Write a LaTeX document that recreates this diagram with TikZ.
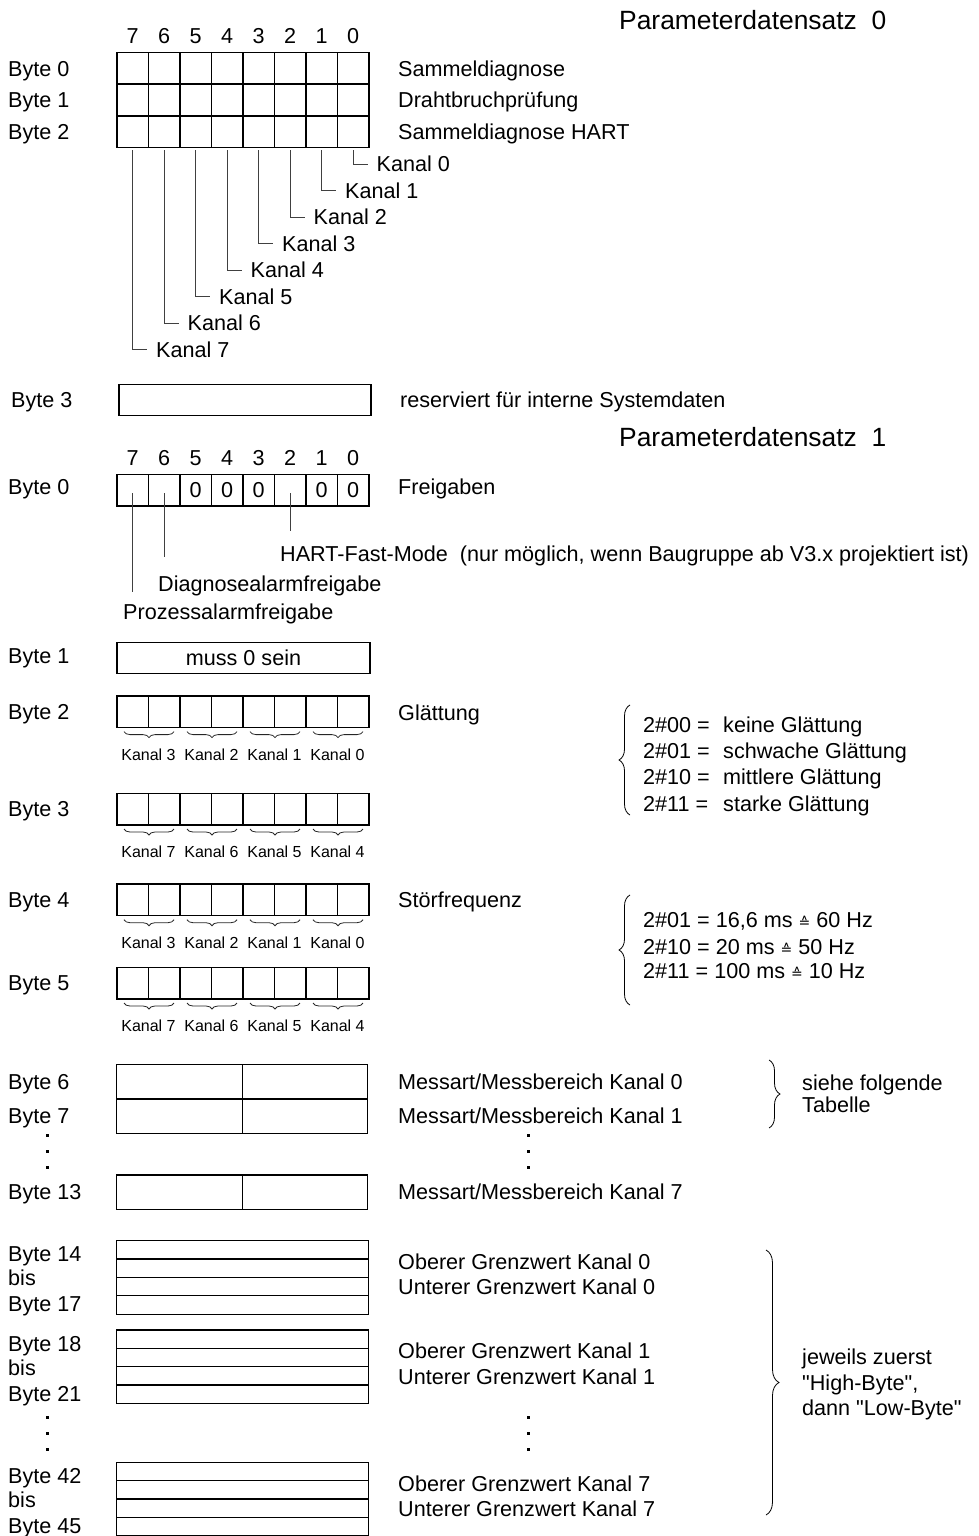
\documentclass[tikz,border=0pt]{standalone}
\usepackage{fontspec}
\setmainfont{Liberation Sans}[Ligatures=TeXOff]
\newfontfamily\symfont{DejaVu Sans}
\usetikzlibrary{positioning, calc, decorations.pathreplacing}

\newcommand{\entspricht}{{\symfont\fontsize{14}{16}\selectfont\char"2259}}

\begin{document}
\begin{tikzpicture}[x=1pt, y=-1pt,
    txt/.style={anchor=west, inner sep=0pt, font=\fontsize{21.6}{26}\selectfont, text height=15.5pt, text depth=0pt},
    small/.style={inner sep=0pt, font=\fontsize{16}{19}\selectfont, text height=11.5pt, text depth=0pt},
    title/.style={anchor=west, inner sep=0pt, font=\fontsize{26.4}{31}\selectfont, text height=19pt, text depth=0pt},
    bitbox/.style={draw, line width=1.5pt, minimum width=31.5pt, minimum height=31.6pt, inner sep=0pt, outer sep=0pt, font=\fontsize{21.6}{26}\selectfont, text height=15.5pt, text depth=0pt},
    bar/.style={draw, line width=1.3pt, minimum width=252pt, minimum height=31.4pt, inner sep=0pt, outer sep=0pt, anchor=north west},
    half/.style={draw, line width=1.3pt, minimum width=125.5pt, minimum height=34.6pt, inner sep=0pt, outer sep=0pt},
    word/.style={draw, line width=1.2pt, minimum width=252pt, minimum height=18.35pt, inner sep=0pt, outer sep=0pt, anchor=north west},
    lead/.style={line width=1pt, black!75},
    dot/.style={fill, minimum size=3pt, inner sep=0pt},
    ubrace/.style={decorate, decoration={brace, amplitude=6pt}, line width=0.8pt, black!85},
    bigbrace/.style={decorate, decoration={brace, amplitude=11pt}, line width=0.8pt}
]
\useasboundingbox (0,0) rectangle (978,1536);

% Parameterdatensatz 0
\node[title] (ps0) at (619,20) {Parameterdatensatz~~0};
\foreach \b in {0,...,7}
  \node[txt, anchor=center] (h\b) at ({132.75+31.5*(7-\b)},36) {\b};
\foreach \r/\yy in {0/68.5,1/100,2/131.5}
  \foreach \b in {0,...,7}
    \node[bitbox] (ab\r\b) at ({132.75+31.5*(7-\b)},\yy) {};
\node[txt] (by0) at (8,68.5) {Byte 0};
\node[txt] (by1) at (8,100) {Byte 1};
\node[txt] (by2) at (8,131.5) {Byte 2};
\node[txt] (sd) at (398,68.5) {Sammeldiagnose};
\node[txt] (dp) at (398,100) {Drahtbruchprüfung};
\node[txt] (sh) at (398,131.5) {Sammeldiagnose HART};
\foreach \b in {0,...,7}{
  \node[txt] (k\b) at ({156+31.5*(7-\b)},{164+26.5*\b}) {Kanal \b};
  \draw[lead] ([yshift=-3pt]ab2\b.south) |- ([xshift=-9pt]k\b.west);
}
\node[txt] (by3) at (11,400) {Byte 3};
\node[bar] (res) at (119,384.3) {};
\node[txt] (rs) at (400,400) {reserviert für interne Systemdaten};

% Parameterdatensatz 1
\node[title] (ps1) at (619,437) {Parameterdatensatz~~1};
\foreach \b in {0,...,7}
  \node[txt, anchor=center] (hp\b) at ({132.75+31.5*(7-\b)},458) {\b};
\foreach \b/\v in {7/,6/,5/0,4/0,3/0,2/,1/0,0/0}
  \node[bitbox] (c\b) at ({132.75+31.5*(7-\b)},490.2) {\v};
\node[txt] (by10) at (8,487) {Byte 0};
\node[txt] (fg) at (398,487) {Freigaben};
\node[txt] (hfm) at (280,553.3) {HART-Fast-Mode~~(nur möglich, wenn Baugruppe ab V3.x projektiert ist)};
\node[txt] (dfg) at (158,584) {Diagnosealarmfreigabe};
\node[txt] (pfg) at (123,612) {Prozessalarmfreigabe};
\draw[lead] ([yshift=-3pt]c7.center) -- ($(c7.center |- pfg.north)+(0,-12)$);
\draw[lead] ([yshift=-3pt]c6.center) -- ($(c6.center |- dfg.north)+(0,-19)$);
\draw[lead] ([yshift=-3pt]c2.center) -- ($(c2.center |- hfm.north)+(0,-14)$);

\node[txt] (by11) at (8,656) {Byte 1};
\node[bar, minimum height=31pt, minimum width=253pt, font=\fontsize{21.6}{26}\selectfont, text height=15.5pt, text depth=0pt] (mz) at (117,642.3) {muss 0 sein};

% Byte 2 bis 5
\foreach \n/\yc/\base in {2/711.8/3, 3/809.2/7, 4/899.9/3, 5/983.2/7}{
  \node[txt] (bb\n) at (8,\yc) {Byte \n};
  \foreach \b in {0,...,7}
    \node[bitbox] (gb\n\b) at ({132.75+31.5*(7-\b)},\yc) {};
  \foreach \p in {0,...,3}{
    \pgfmathtruncatemacro\lb{7-2*\p}
    \pgfmathtruncatemacro\rb{6-2*\p}
    \pgfmathtruncatemacro\k{\base-\p}
    \draw[ubrace] ([xshift=-6pt,yshift=-4pt]gb\n\rb.south east) -- ([xshift=7pt,yshift=-4pt]gb\n\lb.south west);
    \node[small] (kn\n\p) at ({148.5+63*\p},{\yc+42.5}) {Kanal \k};
  }
}
\node[txt] (gl) at (398,713) {Glättung};
\draw[bigbrace] (630,815) -- (630,705);
\foreach \c/\w [count=\i from 0] in {00/keine,01/schwache,10/mittlere,11/starke}{
  \node[txt] (gv\i) at (643,{725+26.1*\i}) {2\#\c\ =};
  \node[txt] (gw\i) at (723,{725+26.1*\i}) {\w\ Glättung};
}
\node[txt] (sf) at (398,900) {Störfrequenz};
\draw[bigbrace] (630,1005) -- (630,895);
\node[txt] (sf1) at (643,920) {2\#01 = 16,6 ms \entspricht\ 60 Hz};
\node[txt] (sf2) at (643,946.5) {2\#10 = 20 ms \entspricht\ 50 Hz};
\node[txt] (sf3) at (643,971) {2\#11 = 100 ms \entspricht\ 10 Hz};

% Messart / Messbereich
\foreach \n/\yc/\k in {6/1081.5/0, 7/1116.2/1, 13/1192.2/7}{
  \node[half] (ml\n) at (179.5,\yc) {};
  \node[half] (mr\n) at (305,\yc) {};
  \node[txt] (bm\n) at (8,\yc) {Byte \n};
  \node[txt] (ma\n) at (398,\yc) {Messart/Messbereich Kanal \k};
}
\foreach \i/\yy in {1/1135, 2/1151.5, 3/1167.5}{
  \node[dot] (dl\i) at (47.3,\yy) {};
  \node[dot] (dr\i) at (528,\yy) {};
}
\draw[bigbrace] (769,1060) -- (769,1128);
\node[txt] (st1) at (802,1082.3) {siehe folgende};
\node[txt] (st2) at (802,1105) {Tabelle};

% Grenzwerte
\foreach \a/\e/\top/\k in {14/17/1240.7/0, 18/21/1330/1, 42/45/1462.3/7}{
  \foreach \j in {0,...,3}
    \node[word] (w\a\j) at (116.7,{\top+18.35*\j}) {};
  \node[txt] (ba\a) at (8,{\top+13.3}) {Byte \a};
  \node[txt] (bis\a) at (8,{\top+37.3}) {bis};
  \node[txt] (be\a) at (8,{\top+63.4}) {Byte \e};
  \node[txt] (og\a) at (398,{\top+21.1}) {Oberer Grenzwert Kanal \k};
  \node[txt] (ug\a) at (398,{\top+46.4}) {Unterer Grenzwert Kanal \k};
}
\foreach \i/\yy in {1/1417.3, 2/1433.3, 3/1449}{
  \node[dot] (el\i) at (47.3,\yy) {};
  \node[dot] (er\i) at (528,\yy) {};
}
\draw[bigbrace, decoration={amplitude=13pt}] (766,1250) -- (766,1515);
\node[txt] (hl1) at (802,1357) {jeweils zuerst};
\node[txt] (hl2) at (802,1383) {"High-Byte",};
\node[txt] (hl3) at (802,1408) {dann "Low-Byte"};
\end{tikzpicture}
\end{document}
